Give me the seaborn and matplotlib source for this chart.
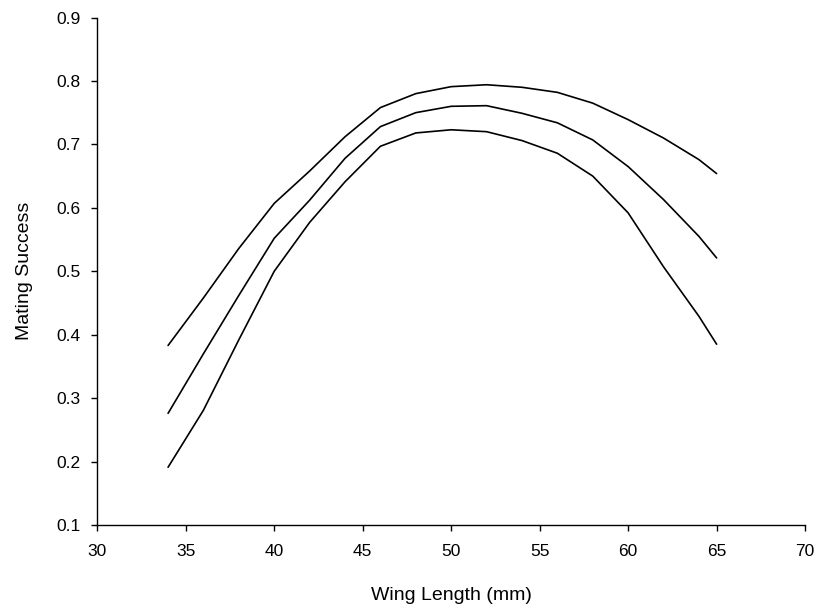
"""Mating success vs wing length, three fitted curves (upper, mean, lower)."""
import matplotlib
matplotlib.use("Agg")
import matplotlib.pyplot as plt
import pandas as pd
import seaborn as sns

wing_length = [34, 36, 38, 40, 42, 44, 46, 48, 50, 52, 54, 56, 58, 60, 62, 64, 65]
upper = [0.383, 0.458, 0.536, 0.607, 0.658, 0.712, 0.758, 0.780, 0.791, 0.794,
         0.790, 0.782, 0.765, 0.739, 0.710, 0.676, 0.654]
middle = [0.276, 0.370, 0.462, 0.552, 0.612, 0.678, 0.728, 0.750, 0.760, 0.761,
          0.749, 0.734, 0.707, 0.665, 0.613, 0.555, 0.521]
lower = [0.191, 0.281, 0.392, 0.500, 0.577, 0.641, 0.697, 0.718, 0.723, 0.720,
         0.706, 0.686, 0.650, 0.592, 0.507, 0.429, 0.385]

x_ticks = [30, 35, 40, 45, 50, 55, 60, 65, 70]
y_ticks = [0.1, 0.2, 0.3, 0.4, 0.5, 0.6, 0.7, 0.8, 0.9]

df = pd.DataFrame({
    "wing": wing_length * 3,
    "success": upper + middle + lower,
    "curve": ["upper"] * len(upper) + ["middle"] * len(middle) + ["lower"] * len(lower),
})

sns.set_style("ticks")
plt.rcParams["font.family"] = ["Liberation Sans", "DejaVu Sans"]
plt.rcParams["text.color"] = "black"
plt.rcParams["axes.labelcolor"] = "black"

fig = plt.figure(figsize=(8.19, 6.12), dpi=100)
ax = fig.add_axes([0.1188, 0.1422, 0.8642, 0.8292])

sns.lineplot(data=df, x="wing", y="success", hue="curve",
             palette=["black", "black", "black"], legend=False,
             linewidth=1.2, ax=ax)

ax.set_xlim(30, 70)
ax.set_ylim(0.1, 0.9)
ax.set_xticks(x_ticks)
ax.set_xticklabels([str(t) for t in x_ticks])
ax.set_yticks(y_ticks)
ax.set_yticklabels([f"{t:.1f}" for t in y_ticks])

sns.despine(ax=ax)
for side in ["left", "bottom"]:
    ax.spines[side].set_color("black")
    ax.spines[side].set_linewidth(1.0)
ax.tick_params(direction="out", length=4, width=1.0, colors="black",
               labelcolor="black", labelsize=12.5)
ax.tick_params(axis="x", pad=10)
ax.tick_params(axis="y", pad=8)

ax.set_xlabel("Wing Length (mm)", fontsize=14, labelpad=20)
ax.set_ylabel("Mating Success", fontsize=14, labelpad=17)

fig.savefig("out.png", dpi=100)
